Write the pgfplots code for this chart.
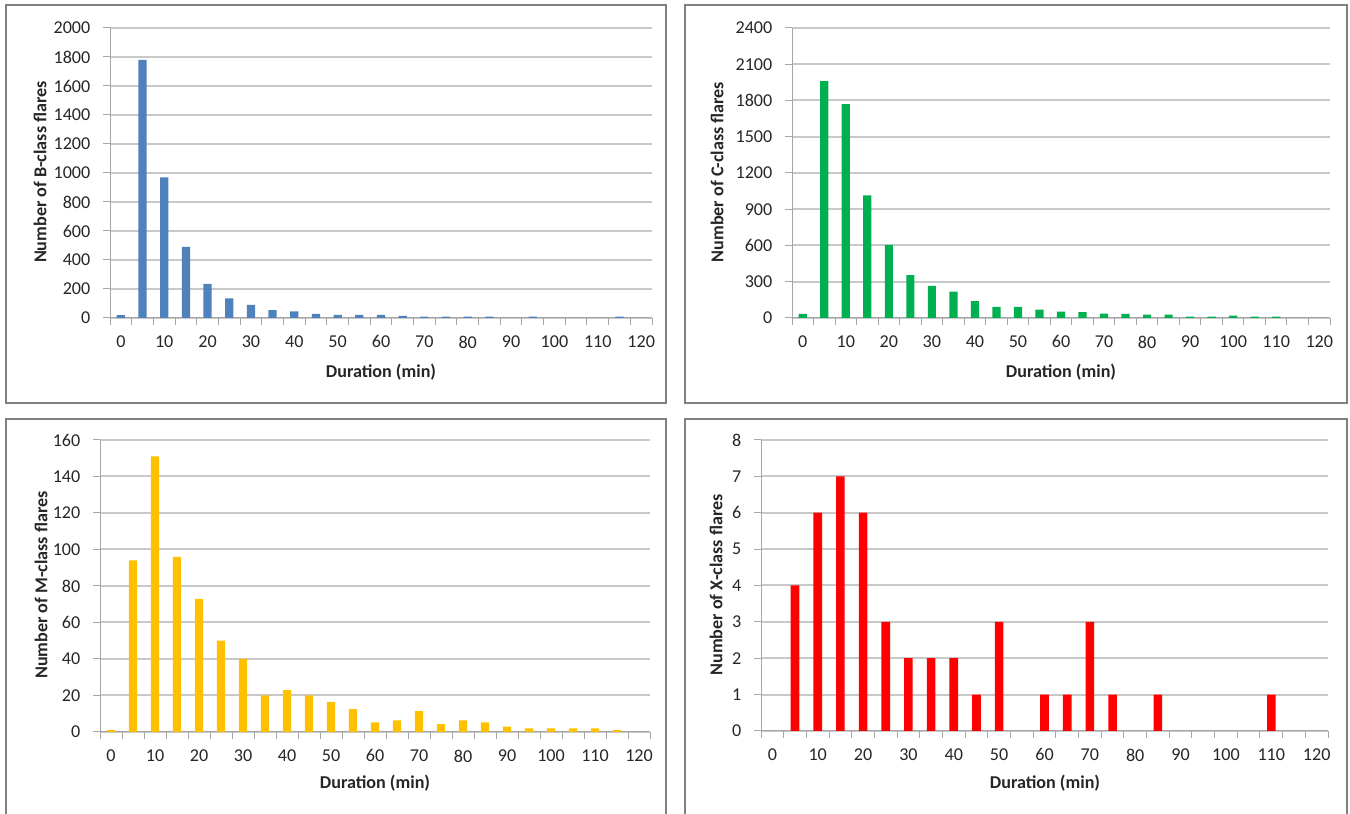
\documentclass[border=0pt]{standalone}
\usepackage{fontspec}
\setmainfont{Carlito}
\usepackage{pgfplots}
\pgfplotsset{compat=1.18}

\definecolor{bblue}{HTML}{4F81BD}
\definecolor{cgreen}{HTML}{00B050}
\definecolor{morange}{HTML}{FFC000}
\definecolor{xred}{HTML}{FF0000}
\definecolor{gridgray}{HTML}{C8C8C8}
\definecolor{framegray}{HTML}{808080}

\pgfplotsset{
  flare/.style={
    scale only axis,
    ybar, bar width=1.9, bar shift=0pt,
    xmin=-2.5, xmax=122.5, ymin=0,
    axis x line*=bottom, axis y line*=left,
    axis line style={-, draw=gray!70, line width=0.2mm},
    xtick={0,10,...,120},
    minor xtick={-2.5,2.5,...,122.5},
    xtick style={draw=none},
    minor tick length=1.4mm,
    major tick length=1.4mm,
    tick align=outside,
    minor x tick style={draw=gray!70, line width=0.2mm},
    ytick style={draw=gray!70, line width=0.2mm},
    ymajorgrids,
    grid style={draw=gridgray, line width=0.4mm},
    tick label style={font=\fontsize{10.3}{12}\selectfont, text=black!85},
    /pgf/number format/assume math mode=true,
    /pgf/number format/1000 sep={},
    scaled y ticks=false,
    xticklabel style={yshift=-0.9mm},
    yticklabel style={xshift=-1.3mm},
  }
}

\begin{document}
\begin{tikzpicture}[x=0.2mm, y=0.2mm]
\useasboundingbox (0,0) rectangle (1350,814);
% panel frames
\draw[framegray, line width=0.4mm] (6,{814-5}) rectangle (666,{814-403});
\draw[framegray, line width=0.4mm] (685,{814-5}) rectangle (1347,{814-403});
\draw[framegray, line width=0.4mm] (6,0) -- (6,{814-419}) -- (666,{814-419}) -- (666,0);
\draw[framegray, line width=0.4mm] (685,0) -- (685,{814-419}) -- (1347,{814-419}) -- (1347,0);

% anchor points of the four plot areas
\coordinate (pB) at (110,{814-318});
\coordinate (pC) at (792,{814-318});
\coordinate (pM) at (100,{814-732});
\coordinate (pX) at (761,{814-731});

% B-class
\begin{axis}[flare, at={(pB)}, anchor=south west,
  width=108.4mm, height=58mm, ymax=2000, ytick={0,200,...,2000}]
\addplot[fill=bblue, draw=none] coordinates {
(0,20)(5,1780)(10,970)(15,490)(20,235)(25,135)(30,90)(35,55)(40,45)(45,28)
(50,21)(55,21)(60,21)(65,14)(70,9)(75,9)(80,9)(85,9)(95,9)(115,9)};
\end{axis}

% C-class
\begin{axis}[flare, at={(pC)}, anchor=south west,
  width=107.6mm, height=58mm, ymax=2400, ytick={0,300,...,2400}]
\addplot[fill=cgreen, draw=none] coordinates {
(0,34)(5,1960)(10,1770)(15,1015)(20,605)(25,355)(30,265)(35,219)(40,140)(45,93)
(50,93)(55,70)(60,53)(65,48)(70,36)(75,34)(80,28)(85,28)(90,11)(95,11)
(100,20)(105,11)(110,11)};
\end{axis}

% M-class
\begin{axis}[flare, at={(pM)}, anchor=south west,
  width=110mm, height=58.4mm, ymax=160, ytick={0,20,...,160}]
\addplot[fill=morange, draw=none] coordinates {
(0,1)(5,94)(10,151)(15,96)(20,73)(25,50)(30,40)(35,20)(40,23)(45,20)
(50,16.5)(55,12.5)(60,5.3)(65,6.3)(70,11.5)(75,4.3)(80,6.3)(85,5.3)(90,3)(95,2)
(100,2)(105,2)(110,2)(115,1)};
\end{axis}

% X-class
\begin{axis}[flare, at={(pX)}, anchor=south west,
  width=113.4mm, height=58.2mm, ymax=8, ytick={0,1,...,8}]
\addplot[fill=xred, draw=none] coordinates {
(5,4)(10,6)(15,7)(20,6)(25,3)(30,2)(35,2)(40,2)(45,1)(50,3)
(60,1)(65,1)(70,3)(75,1)(85,1)(110,1)};
\end{axis}

% axis titles
\begin{scope}[every node/.style={font=\fontsize{10.3}{12}\selectfont\bfseries, text=black!85}]
\node[rotate=90] at (40,{814-172}) {Number of B-class flares};
\node[rotate=90] at (717,{814-172}) {Number of C-class flares};
\node[rotate=90] at (41,{814-585}) {Number of M-class flares};
\node[rotate=90] at (716,{814-585}) {Number of X-class flares};
\node at (381,{814-372}) {Duration (min)};
\node at (1061,{814-372}) {Duration (min)};
\node at (375,{814-783}) {Duration (min)};
\node at (1045,{814-783}) {Duration (min)};
\end{scope}
\end{tikzpicture}
\end{document}
